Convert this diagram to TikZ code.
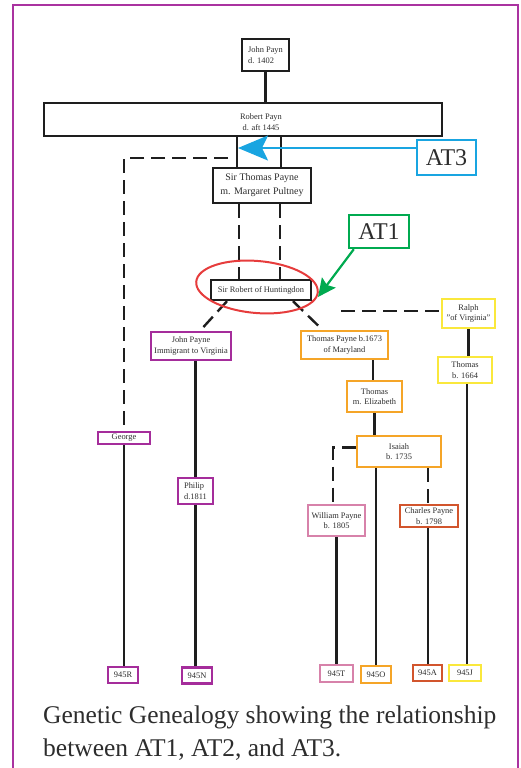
\documentclass[tikz,border=0pt]{standalone}
\usepackage{fontspec}
\setmainfont{Liberation Serif}
\usetikzlibrary{arrows.meta,calc}
\definecolor{frm}{RGB}{170,50,160}
\definecolor{purp}{RGB}{165,45,155}
\definecolor{orng}{RGB}{245,165,40}
\definecolor{yelw}{RGB}{250,232,60}
\definecolor{pink}{RGB}{215,130,170}
\definecolor{rust}{RGB}{210,85,45}
\definecolor{blu}{RGB}{25,165,225}
\definecolor{grn}{RGB}{0,170,80}
\definecolor{redc}{RGB}{230,60,60}
\definecolor{txt}{RGB}{45,45,45}
\definecolor{lnc}{RGB}{30,30,30}
\begin{document}
\begin{tikzpicture}[x=1pt,y=-1pt,
  bx/.style={draw=lnc, line width=2.4pt, inner sep=0pt, align=center,
    font=\fontsize{8.4}{10.5}\selectfont, text=txt},
  big/.style={bx, font=\fontsize{10}{14}\selectfont},
  tag/.style={bx, line width=2.4pt},
  atbox/.style={draw, line width=2.4pt, inner sep=0pt, font=\fontsize{24}{26}\selectfont, text=txt},
  conn/.style={draw=lnc, line width=2.4pt},
  dsh/.style={conn, dash pattern=on 14pt off 7pt}]
\useasboundingbox (0,0) rectangle (521,768);
\draw[frm, line width=2.5pt] (13,780) -- (13,5) -- (518,5) -- (518,780);

% top boxes
\node[bx, align=left, minimum width=47pt, minimum height=32pt] (john) at (265.5,55) {John Payn\\d. 1402};
\node[bx, minimum width=398pt, minimum height=33pt] (robert) at (243,119.5) {};
\node[inner sep=0pt, align=center, font=\fontsize{8.4}{10.5}\selectfont, text=txt] (roberttext) at (261,122) {Robert Payn\\d. aft 1445};
\node[big, minimum width=98pt, minimum height=35pt] (sirthomas) at (262,185.5) {Sir Thomas Payne\\m. Margaret Pultney};
\node[bx, minimum width=100pt, minimum height=20pt] (sirrobert) at (261,290) {Sir Robert of Huntingdon};

% purple branch
\node[bx, draw=purp, minimum width=80pt, minimum height=28pt] (johnpayne) at (191,346) {John Payne\\Immigrant to Virginia};
\node[bx, draw=purp, minimum width=52pt, minimum height=12pt] (george) at (124,438) {George};
\node[bx, draw=purp, align=left, minimum width=35pt, minimum height=26pt] (philip) at (195.5,491) {Philip\\d.1811};

% orange branch
\node[bx, draw=orng, minimum width=87pt, minimum height=28pt] (tpm) at (344.5,345) {Thomas Payne b.1673\\of Maryland};
\node[bx, draw=orng, minimum width=55pt, minimum height=31pt] (tme) at (374.5,396.5) {Thomas\\m. Elizabeth};
\node[bx, draw=orng, minimum width=84pt, minimum height=31pt] (isaiah) at (399,451.5) {Isaiah\\b. 1735};
\node[bx, draw=pink, minimum width=57pt, minimum height=31pt] (william) at (336.5,520.5) {William Payne\\b. 1805};
\node[bx, draw=rust, minimum width=58pt, minimum height=22pt] (charles) at (429,516) {Charles Payne\\b. 1798};

% yellow branch
\node[bx, draw=yelw, minimum width=53pt, minimum height=29pt] (ralph) at (468.5,313.5) {Ralph\\"of Virginia"};
\node[bx, draw=yelw, minimum width=54pt, minimum height=26pt] (thomasb) at (465,370) {Thomas\\b. 1664};

% bottom tags
\node[tag, draw=purp, minimum width=30pt, minimum height=16pt] (r945) at (123,675) {945R};
\node[tag, draw=purp, minimum width=30pt, minimum height=16pt] (n945) at (197,675.5) {945N};
\node[tag, draw=pink, minimum width=33pt, minimum height=17pt] (t945) at (336.5,673.5) {945T};
\node[tag, draw=orng, minimum width=30pt, minimum height=17pt] (o945) at (376,674.5) {945O};
\node[tag, draw=rust, minimum width=29pt, minimum height=16pt] (a945) at (427.5,673) {945A};
\node[tag, draw=yelw, minimum width=32pt, minimum height=16pt] (j945) at (465,673) {945J};

% AT boxes
\node[atbox, draw=blu, minimum width=59pt, minimum height=35pt] (at3) at (446.5,157.5) {AT3};
\node[atbox, draw=grn, minimum width=60pt, minimum height=33pt] (at1) at (379,231.5) {AT1};
\coordinate (at3tip) at (238,148);
\coordinate (at1tip) at (318,297);
\coordinate (georgedash) at (228,158);
\coordinate (ralphdash) at (341,311);

% connectors
\draw[conn] (john.south) -- (john.south |- robert.north);
\draw[conn] ([xshift=-25pt]sirthomas.north |- robert.south) -- ([xshift=-25pt]sirthomas.north);
\draw[conn] ([xshift=19pt]sirthomas.north |- robert.south) -- ([xshift=19pt]sirthomas.north);
\draw[dsh] ([xshift=-23pt]sirthomas.south) -- ([xshift=-23pt]sirthomas.south |- sirrobert.north);
\draw[dsh] ([xshift=18pt]sirthomas.south) -- ([xshift=18pt]sirthomas.south |- sirrobert.north);
\draw[dsh] (georgedash) -| (george.north);
\draw[conn] (george.south) -- (george.south |- r945.north);
\draw[dsh] ([xshift=-34pt]sirrobert.south) -- ([xshift=9pt]johnpayne.north);
\draw[dsh] ([xshift=32pt]sirrobert.south) -- ([xshift=-22pt]tpm.north);
\draw[dsh] (ralphdash) -- (ralphdash -| ralph.west);
\draw[conn] (philip.north |- johnpayne.south) -- (philip.north);
\draw[conn] (philip.south) -- (philip.south |- n945.north);
\draw[conn] ([xshift=-1.5pt]tme.north |- tpm.south) -- ([xshift=-1.5pt]tme.north);
\draw[conn] (tme.south) -- (tme.south |- isaiah.north);
\draw[conn] (o945.north |- isaiah.south) -- (o945.north);
\draw[dsh] ([xshift=-1pt]charles.north |- isaiah.south) -- ([xshift=-1pt]charles.north);
\draw[conn] ([xshift=-1pt]charles.south) -- ([xshift=-1pt]charles.south |- a945.north);
\draw[dsh] ([yshift=4pt]isaiah.west) -| ([xshift=-3.5pt]william.north);
\draw[conn] (william.south) -- (william.south |- t945.north);
\draw[conn] (ralph.south) -- (ralph.south |- thomasb.north);
\draw[conn] ([xshift=2pt]thomasb.south) -- ([xshift=2pt]thomasb.south |- j945.north);

% highlight and arrows
\draw[redc, line width=2pt, rotate around={-5:(257,287)}] (257,287) ellipse [x radius=61, y radius=26];
\draw[blu, line width=2.2pt, -{Stealth[length=30pt,width=25pt,inset=6pt]}] ([yshift=9.5pt]at3.west) -- (at3tip);
\draw[grn, line width=2.2pt, -{Stealth[length=18pt,width=17pt,inset=3pt]}] ([xshift=6pt]at1.south west) -- (at1tip);

% caption
\node[anchor=base west, inner sep=0pt, align=left, text=txt, font=\fontsize{25.5}{33}\selectfont] (caption) at (43,756) {Genetic Genealogy showing the relationship\\between AT1, AT2, and AT3.};
\end{tikzpicture}
\end{document}
